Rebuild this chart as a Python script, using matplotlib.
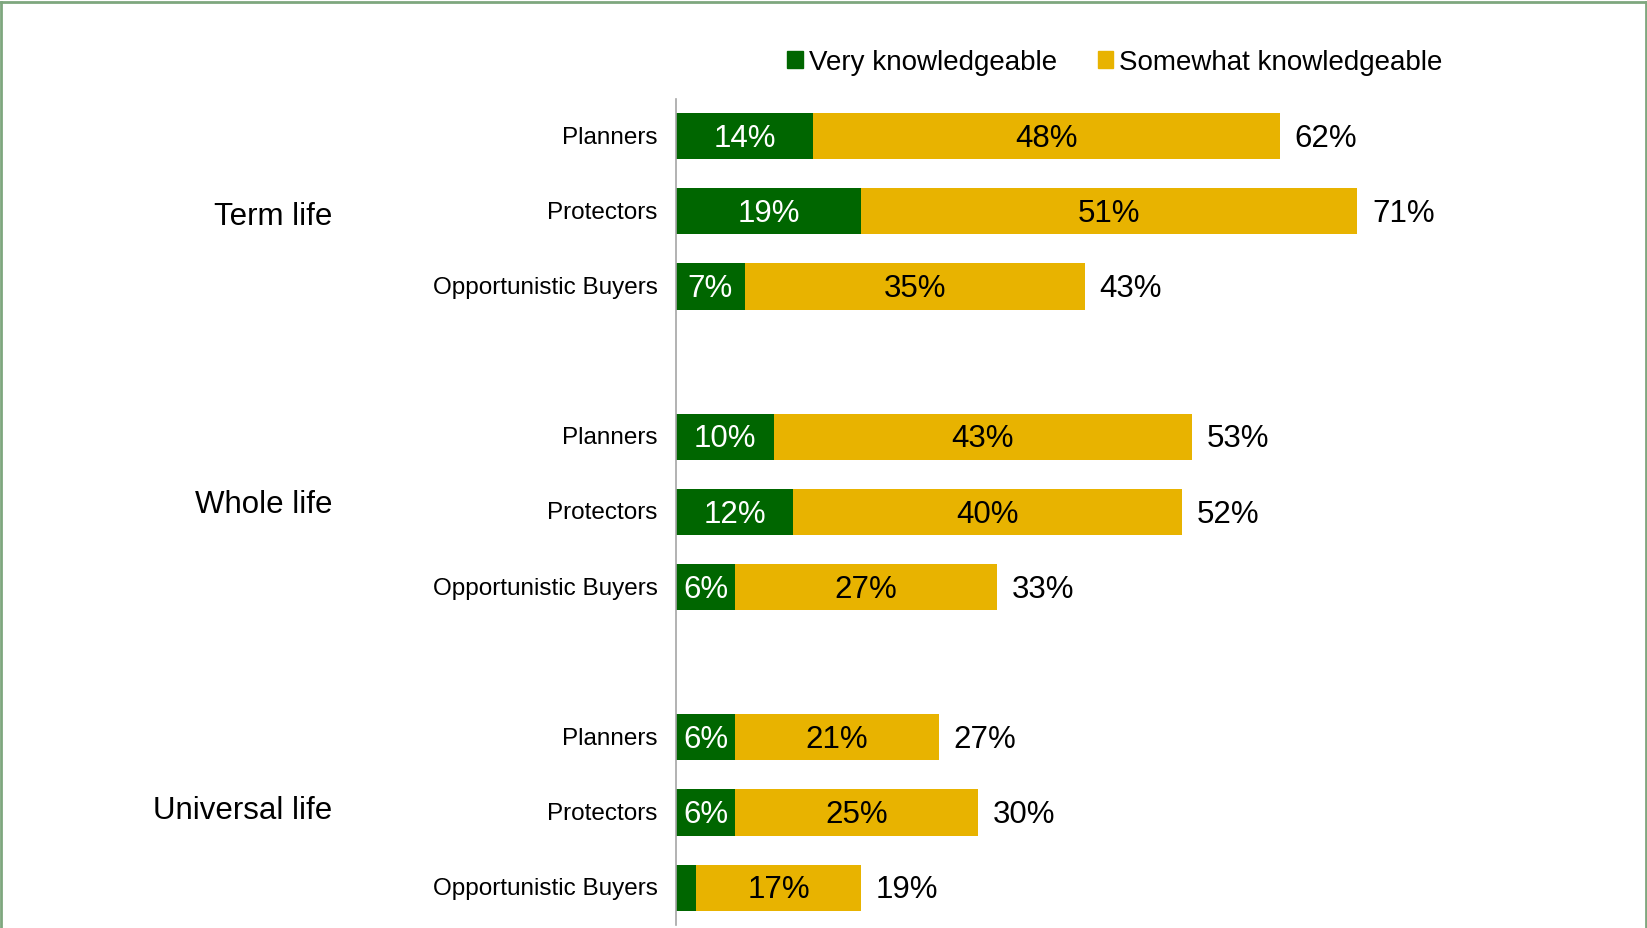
import matplotlib.pyplot as plt
from matplotlib.lines import Line2D
from matplotlib.patches import Patch
from matplotlib.transforms import blended_transform_factory, ScaledTranslation

plt.rcParams['font.family'] = ['Liberation Sans', 'DejaVu Sans']

GREEN = '#006600'
YELLOW = '#E8B300'
BORDER = '#7ea77e'

groups = ['Term life', 'Whole life', 'Universal life']
segments = ['Planners', 'Protectors', 'Opportunistic Buyers']
very = [14, 19, 7, 10, 12, 6, 6, 6, 2]
very_labels = ['14%', '19%', '7%', '10%', '12%', '6%', '6%', '6%', '']
somewhat = [48, 51, 35, 43, 40, 27, 21, 25, 17]
totals = [62, 71, 43, 53, 52, 33, 27, 30, 19]

# one blank slot between the groups
pos = [g * 4 + j for g in range(len(groups)) for j in range(len(segments))]

fig = plt.figure(figsize=(16.47, 9.29), dpi=100)
ax = fig.add_axes([0.4107, 0.003, 0.4725, 0.8898])

bars_v = ax.barh(pos, very, height=0.615, color=GREEN)
bars_s = ax.barh(pos, somewhat, left=very, height=0.615, color=YELLOW)

for y, v, s, t, vl in zip(pos, very, somewhat, totals, very_labels):
    ax.annotate(vl, (v / 2, y), xytext=(0, -1.2), textcoords='offset points',
                ha='center', va='center', color='white', fontsize=22.5)
    ax.annotate(f'{s}%', (v + s / 2, y), xytext=(0, -1.2), textcoords='offset points',
                ha='center', va='center', color='black', fontsize=22.5)
    ax.annotate(f'{t}%', (v + s, y), xytext=(10.5, -1.2), textcoords='offset points',
                ha='left', va='center', color='black', fontsize=22.5)

ax.set_xlim(0, 80)
ax.set_ylim(10.5, -0.5)
ax.set_xticks([])
ax.set_yticks(pos, labels=segments * len(groups), fontsize=17.5)
ax.tick_params(axis='y', length=0, pad=13.7)
lift = ScaledTranslation(0, 0.02, fig.dpi_scale_trans)
for lab in ax.get_yticklabels():
    lab.set_transform(lab.get_transform() + lift)
for s in ['top', 'right', 'bottom']:
    ax.spines[s].set_visible(False)
ax.spines['left'].set_color('#a6a6a6')
ax.spines['left'].set_linewidth(1.2)

# group names on the far left
tr = blended_transform_factory(fig.transFigure, ax.transData)
nudge = [0.02, -0.15, -0.08]
for g, name in enumerate(groups):
    ax.text(0.2016, g * 4 + 1 + nudge[g], name, transform=tr, ha='right',
            va='center_baseline', fontsize=22.5)

handles = [Patch(color=GREEN, label='Very knowledgeable'),
           Patch(color=YELLOW, label='Somewhat knowledgeable')]
fig.legend(handles=handles, loc='center', bbox_to_anchor=(0.677, 0.932), ncol=2,
           frameon=False, fontsize=20, handlelength=0.55, handleheight=0.55,
           handletextpad=0.23, columnspacing=1.45)

# frame around the slide (no bottom edge)
fig.add_artist(Line2D([0.0009, 0.0009], [0, 0.9973], transform=fig.transFigure, color=BORDER, lw=2))
fig.add_artist(Line2D([0.0009, 0.9991], [0.9973, 0.9973], transform=fig.transFigure, color=BORDER, lw=2))
fig.add_artist(Line2D([0.9991, 0.9991], [0, 0.9973], transform=fig.transFigure, color=BORDER, lw=2))

fig.savefig('out.png', dpi=100)
